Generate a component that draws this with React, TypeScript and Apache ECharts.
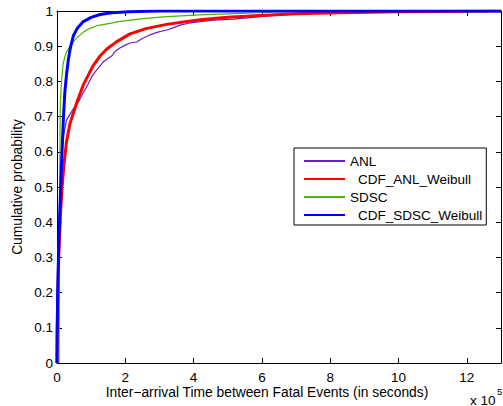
import React, { useEffect, useRef } from "react";
import * as echarts from "echarts";

// x values in units of 10^5 seconds, y = cumulative probability
const anl: [number, number][] = [
  [0, 0], [0.01, 0.1], [0.03, 0.25], [0.06, 0.4], [0.1, 0.52], [0.15, 0.6], [0.2, 0.65], [0.28, 0.69],
  [0.4, 0.71], [0.5, 0.725], [0.62, 0.74], [0.7, 0.755], [0.78, 0.77], [0.9, 0.79], [1.0, 0.81],
  [1.1, 0.825], [1.25, 0.843], [1.35, 0.855], [1.5, 0.866], [1.6, 0.872], [1.7, 0.885], [1.84, 0.895],
  [2.0, 0.903], [2.14, 0.909], [2.33, 0.912], [2.5, 0.922], [2.72, 0.932], [2.95, 0.94], [3.21, 0.946],
  [3.4, 0.952], [3.6, 0.96], [3.9, 0.966], [4.19, 0.97], [4.6, 0.974], [5.16, 0.977], [5.5, 0.98],
  [5.94, 0.984], [6.3, 0.987], [6.63, 0.989], [7.3, 0.994], [8.0, 0.997], [9.0, 0.999], [10.0, 1], [13, 1],
];
const anlWeibull: [number, number][] = [
  [0, 0], [0.005, 0.08], [0.02, 0.18], [0.05, 0.3], [0.1, 0.42], [0.15, 0.5], [0.2, 0.56], [0.28, 0.63],
  [0.38, 0.68], [0.48, 0.71], [0.58, 0.74], [0.77, 0.79], [0.9, 0.815], [1.06, 0.845], [1.26, 0.872],
  [1.46, 0.892], [1.75, 0.913], [2.14, 0.935], [2.6, 0.95], [3.21, 0.962], [3.7, 0.969], [4.19, 0.975],
  [5.0, 0.982], [5.94, 0.987], [7.0, 0.992], [8.3, 0.995], [10.0, 0.998], [13, 1],
];
const sdsc: [number, number][] = [
  [0.06, 0], [0.065, 0.1], [0.07, 0.3], [0.08, 0.5], [0.09, 0.68], [0.1, 0.74], [0.12, 0.78], [0.15, 0.82],
  [0.18, 0.85], [0.23, 0.87], [0.28, 0.884], [0.38, 0.9], [0.48, 0.913], [0.6, 0.925], [0.77, 0.94],
  [0.95, 0.95], [1.16, 0.958], [1.26, 0.96], [1.55, 0.965], [1.8, 0.97], [2.14, 0.974], [2.6, 0.979],
  [3.21, 0.984], [4.19, 0.989], [5.0, 0.992], [5.94, 0.995], [6.5, 0.998], [7.5, 1], [13, 1],
];
const sdscWeibull: [number, number][] = [
  [0, 0], [0.005, 0.08], [0.02, 0.2], [0.05, 0.33], [0.09, 0.45], [0.13, 0.56], [0.16, 0.63], [0.19, 0.7],
  [0.23, 0.77], [0.28, 0.82], [0.33, 0.86], [0.38, 0.89], [0.48, 0.93], [0.6, 0.952], [0.77, 0.97],
  [1.0, 0.982], [1.26, 0.99], [1.6, 0.995], [2.1, 0.998], [3.0, 1], [13, 1],
];

const seriesNames = ["ANL", "CDF_ANL_Weibull", "SDSC", "CDF_SDSC_Weibull"];
const seriesData = [anl, anlWeibull, sdsc, sdscWeibull];
const seriesColors = ["#6a1fc8", "#ff0000", "#4db300", "#0000ff"];
const seriesWidths = [1.2, 3, 1.2, 3];

const xTitle = "Inter\u2212arrival Time between Fatal Events (in seconds)";
const yTitle = "Cumulative probability";

const FONT = "'Liberation Sans', Arial, sans-serif";

export default function App() {
  const ref = useRef<HTMLDivElement>(null);
  useEffect(() => {
    if (!ref.current) return;
    const chart = echarts.init(ref.current, null, { renderer: "svg" });
    const axisCommon = {
      type: "value" as const,
      axisLine: { show: true, onZero: false, lineStyle: { color: "#000", width: 1 } },
      axisTick: { show: true, inside: true, length: 5, lineStyle: { color: "#000" } },
      splitLine: { show: false },
    };
    chart.setOption({
      animation: false,
      backgroundColor: "#fff",
      grid: { left: 57, top: 11, width: 444, height: 352, containLabel: false },
      xAxis: [
        {
          ...axisCommon, min: 0, max: 13, interval: 2, position: "bottom",
          axisLabel: { show: true, showMaxLabel: false, margin: 7, color: "#000", fontSize: 13.5, fontFamily: FONT },
        },
        {
          ...axisCommon, min: 0, max: 13, interval: 2, position: "top",
          axisLabel: { show: false },
        },
      ],
      yAxis: [
        {
          ...axisCommon, min: 0, max: 1, interval: 0.1, position: "left",
          axisLabel: {
            show: true, margin: 4, color: "#000", fontSize: 13.5, fontFamily: FONT,
            formatter: (v: number) => (v === 0 ? "0" : v === 1 ? "1" : v.toFixed(1)),
          },
        },
        {
          ...axisCommon, min: 0, max: 1, interval: 0.1, position: "right",
          axisLabel: { show: false },
        },
      ],
      legend: {
        orient: "vertical",
        left: 294,
        top: 148,
        padding: [6, 4, 3, 9],
        itemWidth: 41,
        itemHeight: 14,
        itemGap: 4,
        backgroundColor: "#fff",
        borderColor: "#000",
        borderWidth: 1,
        borderRadius: 0,
        data: seriesNames,
        itemStyle: { color: "transparent", borderColor: "transparent", borderWidth: 0, opacity: 0 },
        formatter: (name: string) => (name.startsWith("CDF") ? `{c|${name}}` : `{a|${name}}`),
        textStyle: {
          color: "#000", fontSize: 13.5, fontFamily: FONT,
          rich: {
            a: { fontSize: 13.5, fontFamily: FONT, color: "#000" },
            c: { fontSize: 13.5, fontFamily: FONT, color: "#000", padding: [0, 0, 0, 8] },
          },
        },
      },
      series: seriesNames.map((name, i) => ({
        name,
        type: "line",
        data: seriesData[i],
        showSymbol: false,
        symbol: "none",
        clip: true,
        smooth: false,
        color: seriesColors[i],
        lineStyle: { color: seriesColors[i], width: seriesWidths[i] },
        z: 2 + i,
      })),
      graphic: [
        {
          type: "text", x: 267, y: 385,
          style: { text: xTitle, fill: "#000", font: `13.8px ${FONT}`, textAlign: "center", textVerticalAlign: "top" },
        },
        {
          type: "text", x: 10, y: 187, rotation: Math.PI / 2,
          style: { text: yTitle, fill: "#000", font: `13.8px ${FONT}`, textAlign: "center", textVerticalAlign: "top" },
        },
        {
          type: "text", x: 470, y: 393,
          style: { text: "x 10", fill: "#000", font: `13.5px ${FONT}`, textAlign: "left", textVerticalAlign: "top" },
        },
        {
          type: "text", x: 497, y: 386,
          style: { text: "5", fill: "#000", font: `9.5px ${FONT}`, textAlign: "left", textVerticalAlign: "top" },
        },
      ],
    });
    return () => chart.dispose();
  }, []);
  return <div ref={ref} style={{ width: 503, height: 406, position: "absolute", left: 0, top: 0 }} />;
}
